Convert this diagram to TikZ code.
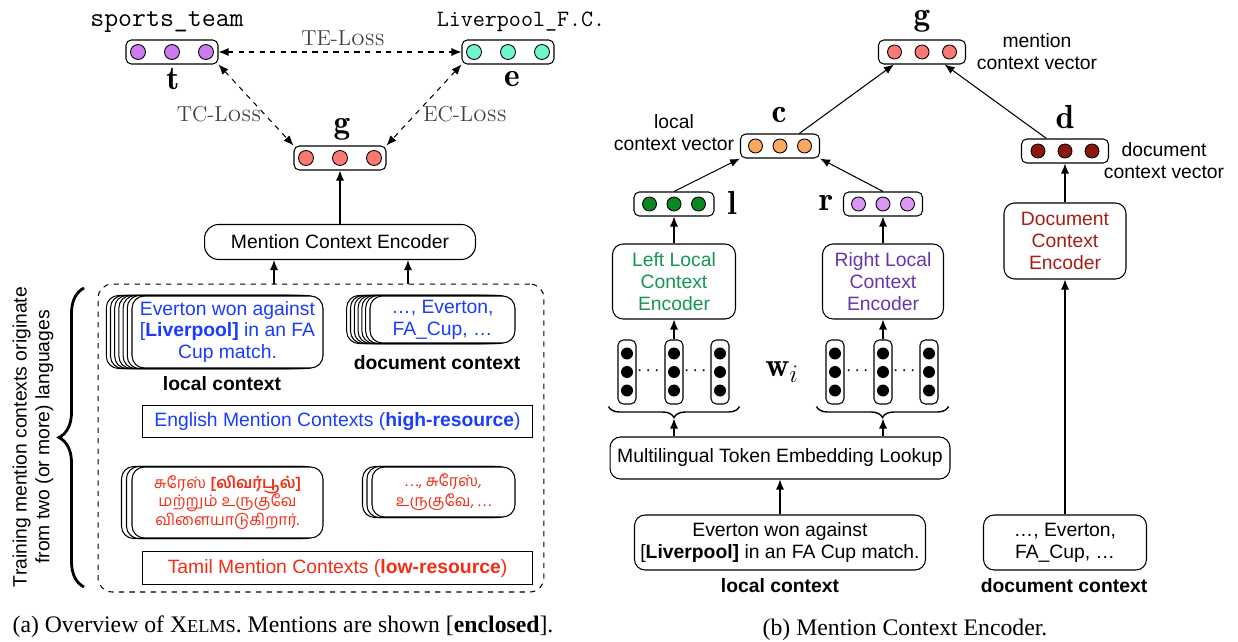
\documentclass[tikz,border=0pt]{standalone}
\usepackage{fontspec}
\usepackage{amsmath,amssymb}
\usepackage{xcolor}
\usepackage{tikz}
\usetikzlibrary{arrows.meta,positioning,calc,decorations.pathreplacing,backgrounds}
\newfontfamily\helv{Liberation Sans}
\newfontfamily\capfont{Liberation Serif}
\newfontfamily\tamil[Script=Tamil]{Hind Madurai}
\definecolor{tvio}{RGB}{205,122,240}
\definecolor{emint}{RGB}{110,245,205}
\definecolor{gsal}{RGB}{248,122,114}
\definecolor{corg}{RGB}{250,168,96}
\definecolor{dred}{RGB}{140,22,12}
\definecolor{lgrn}{RGB}{10,135,30}
\definecolor{rvio}{RGB}{218,150,245}
\definecolor{enblue}{RGB}{25,60,255}
\definecolor{tared}{RGB}{245,45,20}
\definecolor{llgrn}{RGB}{20,150,80}
\definecolor{rlvio}{RGB}{105,50,175}
\definecolor{dcred}{RGB}{165,30,20}

\begin{document}
\begin{tikzpicture}[
  x=0.02cm, y=-0.02cm,
  font=\helv\fontsize{11}{12.5}\selectfont,
  vec/.style={draw, rounded corners=3pt, minimum height=0.48cm, inner sep=0pt, line width=0.6pt},
  bigdot/.style={circle, draw, line width=0.5pt, minimum size=0.3cm, inner sep=0pt},
  smalldot/.style={circle, draw, line width=0.5pt, minimum size=0.28cm, inner sep=0pt},
  wcol/.style={draw, rounded corners=3pt, minimum width=0.36cm, minimum height=1.28cm, line width=0.6pt},
  wdot/.style={circle, fill=black, minimum size=0.24cm, inner sep=0pt},
  enc/.style={draw, rounded corners=6pt, align=center, line width=0.6pt},
  ctxbox/.style={draw, fill=white, rounded corners=7pt, align=center, line width=0.6pt, inner sep=1pt},
  stackbg/.style={draw, fill=white, rounded corners=7pt, line width=0.6pt},
  bar/.style={draw, line width=0.6pt, minimum width=7.82cm, minimum height=0.65cm},
  lab/.style={font=\fontsize{19}{21}\selectfont, inner sep=0pt},
  losslab/.style={font=\rmfamily\fontsize{12.3}{14}\selectfont, text=black!75},
  boldlab/.style={font=\helv\bfseries\fontsize{11}{13}\selectfont},
  >={Latex[length=2mm,width=1.6mm]},
  arr/.style={->, line width=0.6pt},
  lossarr/.style={<->, dashed, line width=0.6pt},
]
\useasboundingbox (0,0) rectangle (1238,642);

% ============ (a) type / entity / context vectors ============
\node[font=\ttfamily\fontsize{15.4}{17}\selectfont] (sptext) at (167,22) {sports\_team};
\node[font=\ttfamily\fontsize{13.3}{15}\selectfont] (lfctext) at (521,22) {Liverpool\_F.C.};
\node[vec, minimum width=1.84cm] (tvec) at (172,52) {};
\node[vec, minimum width=1.84cm] (evec) at (508,52) {};
\node[vec, minimum width=1.84cm] (gvec) at (340,158) {};
\foreach \v/\c in {tvec/tvio, evec/emint, gvec/gsal}
  \foreach \i in {-1,0,1}
    \node[bigdot, fill=\c] (\v\i) at ($(\v)+(\i*34,0)$) {};
\node[lab] (tlab) at (173,79) {$\mathbf{t}$};
\node[lab] (elab) at (512,79) {$\mathbf{e}$};
\node[lab] (glab) at (342,129) {$\mathbf{g}$};

% ============ losses ============
\draw[lossarr] (tvec.east) -- (evec.west);
\draw[lossarr] (tvec.south east) -- (gvec.north west);
\draw[lossarr] (evec.south west) -- (gvec.north east);
\node[losslab] (teloss) at (343,38) {TE-L\textsc{oss}};
\node[losslab] (tcloss) at (219,114) {TC-L\textsc{oss}};
\node[losslab] (ecloss) at (465,114) {EC-L\textsc{oss}};

% ============ Mention Context Encoder ============
\node[enc, rounded corners=8pt, minimum width=5.42cm, minimum height=0.7cm] (mce) at (340,242) {Mention Context Encoder};
\draw[arr] (mce.north) -- (gvec.south);

% ============ training contexts frame ============
\node[draw, dashed, rounded corners=8pt, line width=0.6pt, minimum width=8.92cm, minimum height=6.16cm] (ctxframe) at (321,438) {};
\draw[arr] ([xshift=-1.32cm]mce.south |- ctxframe.north) -- ([xshift=-1.32cm]mce.south);
\draw[arr] ([xshift=1.36cm]mce.south |- ctxframe.north) -- ([xshift=1.36cm]mce.south);

% English contexts
\node[ctxbox, minimum width=3.82cm, minimum height=1.44cm, text=enblue] (engloc) at (227.5,332)
  {Everton won against\\{[}\textbf{Liverpool]} in an FA\\Cup match.};
\node[ctxbox, minimum width=2.9cm, minimum height=0.94cm, text=enblue] (engdoc) at (442.5,319.5)
  {…, Everton,\\FA\_Cup, …};
\begin{scope}[on background layer]
\foreach \k in {6,...,1} {
  \draw[stackbg] ($(engloc.south west)+(-\k*4.2,0)$) rectangle ($(engloc.north east)+(-\k*4.2,0)$);
  \draw[stackbg] ($(engdoc.south west)+(-\k*3.8,0)$) rectangle ($(engdoc.north east)+(-\k*3.8,0)$);
}
\end{scope}
\node[boldlab] (englab) at (222,384) {local context};
\node[boldlab] (engdlab) at (437,363) {document context};
\node[bar, text=enblue] (engbar) at (337.5,421.5) {English Mention Contexts (\textbf{high-resource})};

% Tamil contexts
\node[ctxbox, minimum width=3.82cm, minimum height=1.42cm, text=tared, font=\tamil\fontsize{9}{10.6}\selectfont] (tamloc) at (227.5,502.5)
  {சுரேஸ் \textbf{[லிவர்பூல்]}\\மற்றும் உருகுவே\\விளையாடுகிறார்.};
\node[ctxbox, minimum width=2.86cm, minimum height=1.0cm, text=tared, font=\tamil\fontsize{9}{11.5}\selectfont] (tamdoc) at (443.5,492)
  {.\,.\,., சுரேஸ்,\\உருகுவே, .\,.\,.};
\begin{scope}[on background layer]
\foreach \k in {2,1} {
  \draw[stackbg] ($(tamloc.south west)+(-\k*5,0)$) rectangle ($(tamloc.north east)+(-\k*5,0)$);
  \draw[stackbg] ($(tamdoc.south west)+(-\k*4.5,0)$) rectangle ($(tamdoc.north east)+(-\k*4.5,0)$);
}
\end{scope}
\node[bar, text=tared] (tambar) at (337.5,568) {Tamil Mention Contexts (\textbf{low-resource})};

% brace + languages note
\draw[decorate, decoration={brace, amplitude=0.5cm}, line width=1.6pt] (84,587) -- (84,288);
\node[rotate=90, align=center, font=\helv\fontsize{11}{13}\selectfont] (trainlab) at (33,437)
  {Training mention contexts originate\\from two (or more) languages};

\node[font=\capfont\fontsize{13.5}{15}\selectfont] (capa) at (283,627)
  {(a) Overview of X{\fontsize{10.4}{12}\selectfont ELMS}. Mentions are shown [\textbf{enclosed}].};

% ============ (b) Mention Context Encoder ============
\node[vec, minimum width=1.74cm] (g2vec) at (922,52) {};
\node[vec, minimum width=1.58cm] (cvec) at (780,146) {};
\node[vec, minimum width=1.74cm] (dvec) at (1065,151) {};
\node[vec, minimum width=1.6cm] (lvec) at (674,204) {};
\node[vec, minimum width=1.58cm] (rvec) at (883,204) {};
\foreach \v/\c/\s in {g2vec/gsal/27.5, dvec/dred/27, cvec/corg/24.5, lvec/lgrn/24.5, rvec/rvio/24.5}
  \foreach \i in {-1,0,1}
    \node[smalldot, fill=\c] (\v\i) at ($(\v)+(\i*\s,0)$) {};
\node[lab] (g2lab) at (922,21) {$\mathbf{g}$};
\node[lab] (clab) at (779,115) {$\mathbf{c}$};
\node[lab] (dlab) at (1065,117) {$\mathbf{d}$};
\node[lab] (llab) at (732,203) {$\mathbf{l}$};
\node[lab] (rlab) at (826,203) {$\mathbf{r}$};
\node[align=center] (mcvtext) at (1037,52) {mention\\context vector};
\node[align=center] (lcvtext) at (674,133) {local\\context vector};
\node[align=center] (dcvtext) at (1164,161) {document\\context vector};

\draw[arr] (cvec.33) -- (g2vec.204);
\draw[arr] (dvec.146) -- (g2vec.331);
\draw[arr] (lvec.north) -- (cvec.south west);
\draw[arr] (rvec.north) -- (cvec.south east);

% encoders
\node[enc, text=llgrn, minimum width=2.46cm, minimum height=1.5cm] (llce) at (674,281.5) {Left Local\\Context\\Encoder};
\node[enc, text=rlvio, minimum width=2.42cm, minimum height=1.5cm] (rlce) at (883,281.5) {Right Local\\Context\\Encoder};
\node[enc, text=dcred, minimum width=2.44cm, minimum height=1.52cm] (dce) at (1065,241) {Document\\Context\\Encoder};
\draw[arr] (llce.north) -- (lvec.south);
\draw[arr] (rlce.north) -- (rvec.south);
\draw[arr] (dce.north) -- (dvec.south);

% word embeddings
\foreach \n/\x in {wl1/627, wl2/674, wl3/720, wr1/835, wr2/883, wr3/929} {
  \node[wcol] (\n) at (\x,372) {};
  \foreach \j in {-1,0,1}
    \node[wdot] (\n\j) at ($(\n)+(0,\j*18.5)$) {};
}
\foreach \n/\x in {ldots1/650, ldots2/697, rdots1/859, rdots2/906}
  \node[inner sep=0pt] (\n) at (\x,371) {$\cdots$};
\node[lab] (wlab) at (782,372) {$\mathbf{w}_i$};
\draw[arr] (wl2.north) -- (llce.south);
\draw[arr] (wr2.north) -- (rlce.south);
\draw[decorate, decoration={brace, mirror, amplitude=0.22cm}, line width=0.8pt]
  ([xshift=-0.18cm,yshift=-0.04cm]wl1.south west) -- ([xshift=0.2cm,yshift=-0.04cm]wl3.south east);
\draw[decorate, decoration={brace, mirror, amplitude=0.22cm}, line width=0.8pt]
  ([xshift=-0.18cm,yshift=-0.04cm]wr1.south west) -- ([xshift=0.2cm,yshift=-0.04cm]wr3.south east);
\coordinate (lbtip) at ($(wl2.south)+(0,14)$);
\coordinate (rbtip) at ($(wr2.south)+(0,14)$);

% lookup + inputs
\node[enc, minimum width=6.8cm, minimum height=0.84cm] (mtel) at (780,458) {Multilingual Token Embedding Lookup};
\draw[arr] (mtel.north -| lbtip) -- (lbtip);
\draw[arr] (mtel.north -| rbtip) -- (rbtip);
\node[enc, minimum width=5.74cm, minimum height=1.1cm] (locin) at (780,542.5)
  {Everton won against\\{[}\textbf{Liverpool]} in an FA Cup match.};
\node[enc, minimum width=3.26cm, minimum height=1.1cm] (docin) at (1065,542.5) {…, Everton,\\FA\_Cup, …};
\draw[arr] (locin.north) -- (mtel.south);
\draw[arr] (docin.north) -- (dce.south);
\node[boldlab] (loclab) at (780,586) {local context};
\node[boldlab] (doclab) at (1064,586) {document context};

\node[font=\capfont\fontsize{13.5}{15}\selectfont] (capb) at (905,630) {(b) Mention Context Encoder.};

\end{tikzpicture}
\end{document}
